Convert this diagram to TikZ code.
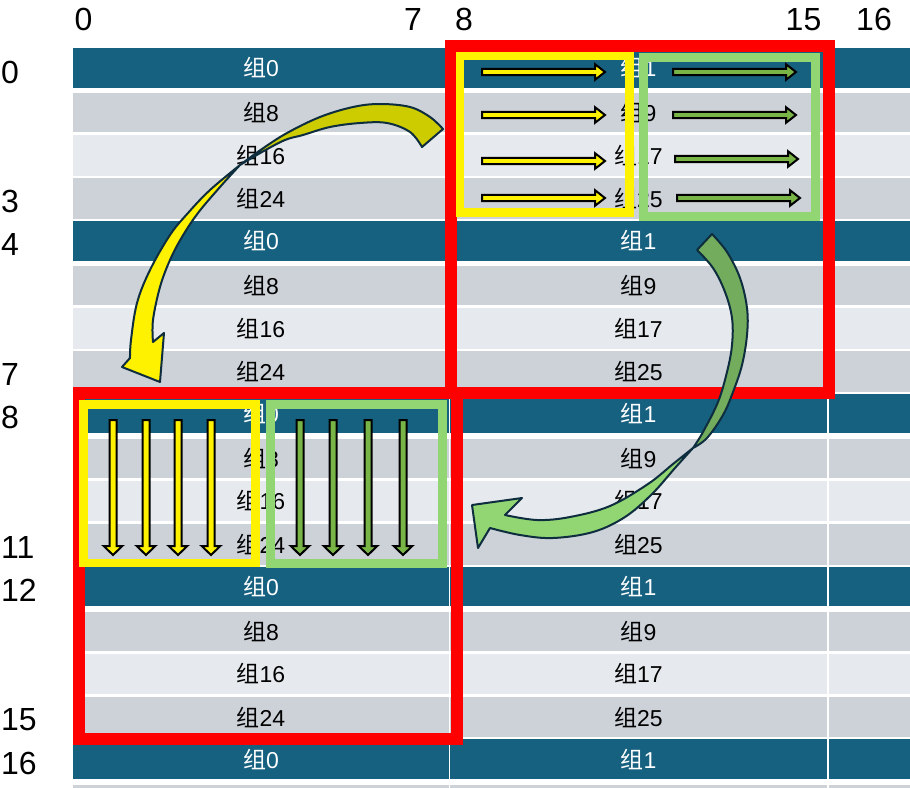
\documentclass[tikz,border=0pt]{standalone}
\usepackage{fontspec}
\setmainfont{Liberation Sans}
\newfontfamily\cjk{Noto Sans CJK SC}
\definecolor{rowblue}{RGB}{22,96,128}
\definecolor{rowgray}{RGB}{205,210,217}
\definecolor{rowlight}{RGB}{230,233,237}
\definecolor{boxgreen}{RGB}{146,214,115}
\definecolor{arrgreen}{RGB}{120,180,70}
\definecolor{tailgreen}{RGB}{114,172,92}
\definecolor{tailyellow}{RGB}{204,204,0}
\definecolor{edgenavy}{RGB}{14,45,62}
\newcommand{\zu}[1]{{\cjk 组}#1}
\begin{document}
\begin{tikzpicture}[x=1pt,y=-1pt,
    cell/.style={rectangle,inner sep=0pt,anchor=north west,font=\fontsize{23}{23}\selectfont},
    idx/.style={inner sep=0pt,font=\fontsize{32}{32}\selectfont},
    redbox/.style={draw=red,line width=12pt},
    ybox/.style={draw=yellow,line width=8.5pt},
    gbox/.style={draw=boxgreen,line width=9pt},
    blk/.style={draw=black,line width=2pt,line join=miter},
    curvearrow/.style={draw=edgenavy,line width=2pt,line join=round}]
    \useasboundingbox (0,0) rectangle (910,787);
    \clip (0,0) rectangle (910,787);

    \foreach \r in {0,...,17}{
        \pgfmathtruncatemacro\m{mod(\r,4)}
        \pgfmathtruncatemacro\la{8*\m}
        \pgfmathtruncatemacro\lb{8*\m+1}
        \pgfmathsetmacro\yt{48+43.2*\r}
        \ifcase\m \def\fc{rowblue}\def\tc{white}\def\dy{0}\def\hh{39.5pt}
        \or \def\fc{rowgray}\def\tc{black}\def\dy{2}\def\hh{39pt}
        \or \def\fc{rowlight}\def\tc{black}\def\dy{0.5}\def\hh{40.6pt}
        \else \def\fc{rowgray}\def\tc{black}\def\dy{0.5}\def\hh{40.6pt}\fi
        \ifnum\r=17 \def\ta{}\def\tb{}\else \def\ta{\zu{\la}}\def\tb{\zu{\lb}}\fi
        \node[cell,fill=\fc,text=\tc,minimum width=375.5pt,minimum height=\hh] (a\r) at (73,{\yt+\dy}) {\ta};
        \node[cell,fill=\fc,text=\tc,minimum width=377.5pt,minimum height=\hh] (b\r) at (449.5,{\yt+\dy}) {\tb};
        \node[cell,fill=\fc,minimum width=82pt,minimum height=\hh] (c\r) at (828.5,{\yt+\dy}) {};
    }

    \node[idx] (col0)  at (83.5,19.5) {0};
    \node[idx] (col7)  at (413,19.5) {7};
    \node[idx] (col8)  at (464,19.5) {8};
    \node[idx] (col15) at (803.5,19.5) {15};
    \node[idx] (col16) at (874,19.5) {16};
    \foreach \r in {0,3,4,7,8,11,12,15,16}
        \node[idx,anchor=west] (row\r) at (1,{48+43.2*\r+24}) {\r};

    \draw[redbox] (451,46) rectangle (829,393);
    \draw[redbox] (79,393) rectangle (457,739);
    \draw[ybox] (460,56) rectangle (629.5,212.5);
    \draw[gbox] (643.5,57.5) rectangle (815.5,216);
    \draw[ybox] (83.5,404.5) rectangle (255.5,563);
    \draw[gbox] (270.5,404.5) rectangle (442.5,563);

    \foreach \xa/\xb/\y in {482/605/72, 482/605/115, 482/605/161, 482/605/198}
        \filldraw[blk,fill=yellow] (\xa,\y-3.2) -- (\xb-10,\y-3.2) -- (\xb-10,\y-7.8) -- (\xb,\y)
            -- (\xb-10,\y+7.8) -- (\xb-10,\y+3.2) -- (\xa,\y+3.2) -- cycle;
    \foreach \xa/\xb/\y in {673/796/72, 673/796/115, 675/798/159, 677/800/198}
        \filldraw[blk,fill=arrgreen] (\xa,\y-3.2) -- (\xb-10,\y-3.2) -- (\xb-10,\y-7.8) -- (\xb,\y)
            -- (\xb-10,\y+7.8) -- (\xb-10,\y+3.2) -- (\xa,\y+3.2) -- cycle;
    \foreach \x in {113,146,178,211}
        \filldraw[blk,fill=yellow] (\x-3.5,420) -- (\x+3.5,420) -- (\x+3.5,546) -- (\x+9.3,546)
            -- (\x,555) -- (\x-9.3,546) -- (\x-3.5,546) -- cycle;
    \foreach \x in {300,333,368,403}
        \filldraw[blk,fill=arrgreen] (\x-3.5,420) -- (\x+3.5,420) -- (\x+3.5,546) -- (\x+9.3,546)
            -- (\x,555) -- (\x-9.3,546) -- (\x-3.5,546) -- cycle;

    \filldraw[curvearrow,fill=tailyellow] plot[smooth,tension=0.6] coordinates {(443,129) (430,117) (410,107) (380,104) (353,107) (320,117) (287,133) (262,149) (240,165)}
        -- plot[smooth,tension=0.6] coordinates {(240,165) (262,152) (285,140) (303,135) (330,127) (360,123) (387,123) (410,132) (422,147)} -- cycle;
    \filldraw[curvearrow,fill=yellow] plot[smooth,tension=0.6] coordinates {(240,165) (210,190) (188,213) (170,235) (150,270) (137,303) (131,340) (130,358)}
        -- (122,367) -- (160,382) -- (164,333) -- (153,342)
        -- plot[smooth,tension=0.6] coordinates {(153,342) (153,320) (160,287) (170,260) (182,237) (198,213) (220,187) (240,165)} -- cycle;
    \filldraw[curvearrow,fill=tailgreen] plot[smooth,tension=0.6] coordinates {(712,234) (727,252) (740,278) (747,308) (747,335) (742,365) (733,392) (723,415) (707,438) (693,448)}
        -- plot[smooth,tension=0.6] coordinates {(693,448) (703,432) (718,402) (727,372) (732,345) (732,318) (725,292) (713,268) (697,250)} -- cycle;
    \filldraw[curvearrow,fill=boxgreen] plot[smooth,tension=0.6] coordinates {(693,448) (673,464) (648,484) (610,506) (570,517) (537,520) (505,515)}
        -- (522,498) -- (472,505) -- (478,548) -- (490,528)
        -- plot[smooth,tension=0.6] coordinates {(490,528) (520,535) (553,538) (593,532) (625,517) (652,494) (675,468) (693,448)} -- cycle;
\end{tikzpicture}
\end{document}
